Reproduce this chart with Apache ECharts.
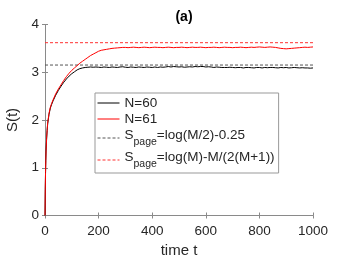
<!DOCTYPE html>
<html><head><meta charset="utf-8">
<script src="https://cdn.jsdelivr.net/npm/echarts@6/dist/echarts.min.js"></script>
<style>html,body{margin:0;padding:0;background:#fff}#c{width:346px;height:260px}</style>
</head><body><div id="c"></div>
<script>
const times = [0,1,2,3,4,6,8,10,15,20,25,30,40,50,60,70,80,90,100,110,120,130,140,150,160,170,180,190,
200,210,220,230,240,250,260,270,280,290,300,310,320,330,340,350,360,370,380,390,
400,410,420,430,440,450,460,470,480,490,500,510,520,530,540,550,560,570,580,590,
600,610,620,630,640,650,660,670,680,690,700,710,720,730,740,750,760,770,780,790,
800,810,820,830,840,850,860,870,880,890,900,910,920,930,940,950,960,970,980,990,1000];
const sN60 = [0,0.55,0.9,1.15,1.35,1.6,1.78,1.92,2.12,2.25,2.33,2.40,2.52,2.62,2.71,2.79,2.86,2.92,2.97,3.01,3.05,3.075,3.09,3.10,3.105,3.11,3.105,3.11,
3.105,3.10,3.11,3.105,3.10,3.11,3.105,3.10,3.11,3.115,3.105,3.10,3.11,3.105,3.10,3.11,3.105,3.10,3.11,3.105,
3.10,3.11,3.10,3.11,3.105,3.11,3.12,3.11,3.12,3.115,3.11,3.115,3.105,3.11,3.115,3.11,3.12,3.115,3.12,3.12,
3.11,3.115,3.11,3.10,3.11,3.105,3.10,3.10,3.10,3.105,3.10,3.095,3.10,3.10,3.09,3.10,3.10,3.095,3.09,3.10,
3.10,3.09,3.10,3.095,3.10,3.10,3.095,3.09,3.10,3.095,3.10,3.09,3.095,3.10,3.095,3.09,3.095,3.09,3.09,3.085,3.09];
const sN61 = [0,0.55,0.9,1.15,1.36,1.62,1.80,1.94,2.14,2.27,2.35,2.42,2.55,2.65,2.74,2.83,2.91,2.98,3.04,3.09,3.14,3.19,3.23,3.27,3.31,3.35,3.38,3.41,
3.44,3.46,3.47,3.48,3.49,3.50,3.505,3.51,3.515,3.52,3.52,3.515,3.52,3.525,3.52,3.515,3.52,3.525,3.52,3.515,
3.52,3.525,3.52,3.52,3.515,3.52,3.525,3.52,3.515,3.52,3.52,3.525,3.52,3.515,3.52,3.525,3.52,3.52,3.525,3.52,
3.515,3.52,3.52,3.525,3.52,3.515,3.52,3.525,3.52,3.52,3.515,3.52,3.52,3.525,3.52,3.515,3.52,3.525,3.52,3.525,
3.53,3.525,3.52,3.525,3.53,3.525,3.52,3.51,3.50,3.495,3.49,3.495,3.50,3.505,3.51,3.515,3.52,3.525,3.52,3.525,3.53];
const pageN60 = 3.151;  // log(30)-0.25
const pageN61 = 3.619;  // log(61)-61/124
const xTicks = [0,200,400,600,800,1000];
const yTicks = [0,1,2,3,4];
const seriesNames = ['N=60','N=61','Spage1','Spage2'];

const FONT = '"Liberation Sans", Arial, sans-serif';
const TXT = '#262626';
const AX = '#8a8a8a';
const pairs = (ys) => times.map((t,i)=>[t, ys[i]]);

const chart = echarts.init(document.getElementById('c'), null, {renderer:'canvas'});
const axBase = {
  axisLine:{show:true, lineStyle:{color:AX, width:1}},
  axisTick:{show:true, inside:true, length:3, lineStyle:{color:AX}},
  splitLine:{show:false}
};
const hideSym = {color:'rgba(0,0,0,0)', borderColor:'rgba(0,0,0,0)', borderWidth:0, opacity:0};
chart.setOption({
  animation:false,
  backgroundColor:'#fff',
  textStyle:{fontFamily:FONT},
  title:{text:'(a)', left:179, top:5, textAlign:'center',
    textStyle:{fontFamily:FONT, fontSize:14, fontWeight:'bold', color:'#000'}},
  grid:{left:45, right:33, top:24.5, bottom:44.5, containLabel:false, outerBoundsMode:'none'},
  xAxis:[
    Object.assign({type:'value', min:xTicks[0], max:xTicks[xTicks.length-1], interval:200,
      name:'time t', nameLocation:'middle', nameGap:27,
      nameTextStyle:{fontFamily:FONT, fontSize:15, color:TXT},
      axisLabel:{fontFamily:FONT, fontSize:13.5, color:TXT, margin:9, formatter:(v)=>String(v)}}, axBase),
    Object.assign({type:'value', position:'top', min:0, max:1000, interval:200,
      axisLabel:{show:false}}, axBase)
  ],
  yAxis:[
    Object.assign({type:'value', min:yTicks[0], max:yTicks[yTicks.length-1], interval:1,
      name:'S(t)', nameLocation:'middle', nameGap:20,
      nameTextStyle:{fontFamily:FONT, fontSize:15, color:TXT},
      axisLabel:{fontFamily:FONT, fontSize:13.5, color:TXT, margin:6}}, axBase),
    Object.assign({type:'value', position:'right', min:0, max:4, interval:1,
      axisLabel:{show:false}}, axBase)
  ],
  legend:{
    orient:'vertical', left:95, top:93, itemWidth:22, itemHeight:10, itemGap:2,
    padding:[3,4,3,2],
    backgroundColor:'#fff', borderColor:'#999', borderWidth:1,
    lineStyle:{width:1},
    data:seriesNames.map(n=>({name:n, itemStyle:hideSym})),
    formatter:function(n){
      if(n==='Spage1') return '{s|S}{sub|page}{s|=log(M/2)-0.25}{h|}';
      if(n==='Spage2') return '{s|S}{sub|page}{s|=log(M)-M/(2(M+1))}{h|}';
      return '{n|'+n+'}';
    },
    textStyle:{fontFamily:FONT, fontSize:13.5, color:TXT,
      rich:{
        n:{fontFamily:FONT, fontSize:13.5, color:TXT, lineHeight:15},
        s:{fontFamily:FONT, fontSize:13.5, color:TXT, lineHeight:14, verticalAlign:'top'},
        sub:{fontFamily:FONT, fontSize:10.5, color:TXT, lineHeight:11, verticalAlign:'bottom'},
        h:{lineHeight:20, width:0}
      }}
  },
  series:[
    {name:'N=60', type:'line', data:pairs(sN60), symbol:'none', z:3,
      lineStyle:{color:'#000', width:1}, itemStyle:{color:'#000'}},
    {name:'N=61', type:'line', data:pairs(sN61), symbol:'none', z:4,
      lineStyle:{color:'#ff0000', width:1}, itemStyle:{color:'#ff0000'}},
    {name:'Spage1', type:'line', data:[[0,pageN60],[1000,pageN60]], symbol:'none', z:2,
      lineStyle:{color:'#555', width:1, type:[3,2]}, itemStyle:{color:'#555'}},
    {name:'Spage2', type:'line', data:[[0,pageN61],[1000,pageN61]], symbol:'none', z:2,
      lineStyle:{color:'#ff3030', width:1, type:[3,2]}, itemStyle:{color:'#ff3030'}}
  ]
});
</script></body></html>
